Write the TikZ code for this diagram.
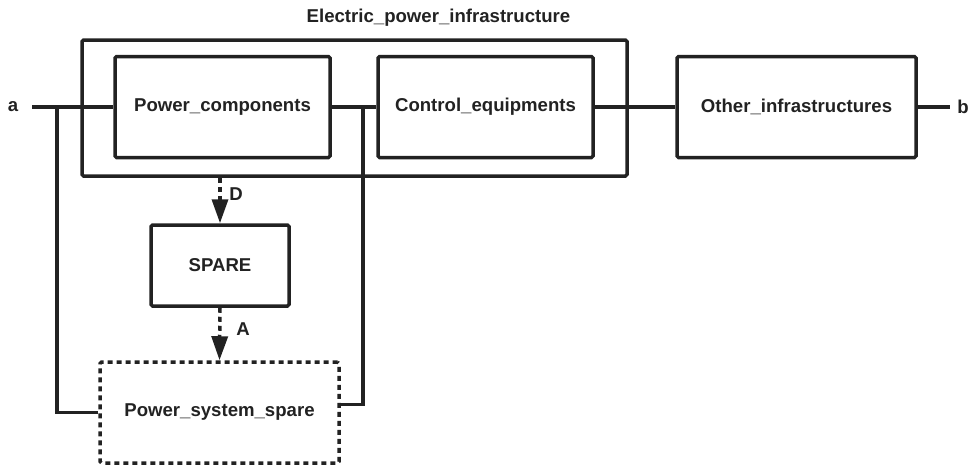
\documentclass[tikz,border=0pt]{standalone}
\usepackage{fontspec}
\setmainfont{Liberation Sans}
\usetikzlibrary{arrows.meta}
\definecolor{ink}{RGB}{34,34,34}
\begin{document}
\begin{tikzpicture}[x=1pt,y=-1pt,
  every node/.style={font=\fontsize{18.6}{22}\selectfont\bfseries, text=ink},
  blk/.style={draw=ink, line width=3.5pt, rounded corners=1.5pt, inner sep=0pt},
  wire/.style={draw=ink, line width=3.5pt},
  darrow/.style={draw=ink, line width=3.5pt, dash pattern=on 5pt off 4pt, -{Triangle[length=24pt,width=16pt]}},
]
\useasboundingbox (0,0) rectangle (973,466);

\node[blk, minimum width=545pt, minimum height=136pt] (epi) at (354.5,108) {};
\node (title) at (438.5,17.5) {Electric\_power\_infrastructure};

\node[blk, minimum width=215pt, minimum height=101pt] (pc) at (222.5,107) {Power\_components};
\node[blk, minimum width=215pt, minimum height=101pt] (ce) at (485.5,107) {Control\_equipments};
\node[blk, minimum width=239pt, minimum height=101pt] (oi) at (796.5,107) {Other\_infrastructures};

\node[blk, minimum width=138pt, minimum height=81pt] (spare) at (220,265.5) {SPARE};
\node[blk, dash pattern=on 5pt off 4pt, minimum width=239pt, minimum height=101pt] (pss) at (219.5,412.5) {Power\_system\_spare};

\node (a) at (13,107) {a};
\node (b) at (963,107) {b};
\coordinate (aend) at (32,107);
\coordinate (bend) at (950,107);
\coordinate (j1) at (57,107);
\coordinate (j2) at (363,107);

\draw[wire] (aend) -- (pc.west);
\draw[wire] (pc.east) -- (ce.west);
\draw[wire] (ce.east) -- (oi.west);
\draw[wire] (oi.east) -- (bend);
\draw[wire] (j1) |- (pss.west);
\draw[wire] (j2) |- ([yshift=8pt]pss.east);

\draw[darrow] (spare.north |- epi.south) -- (spare.north);
\draw[darrow] (spare.south) -- (pss.north);
\node (dlab) at (236,194) {D};
\node (alab) at (243,329) {A};
\end{tikzpicture}
\end{document}
